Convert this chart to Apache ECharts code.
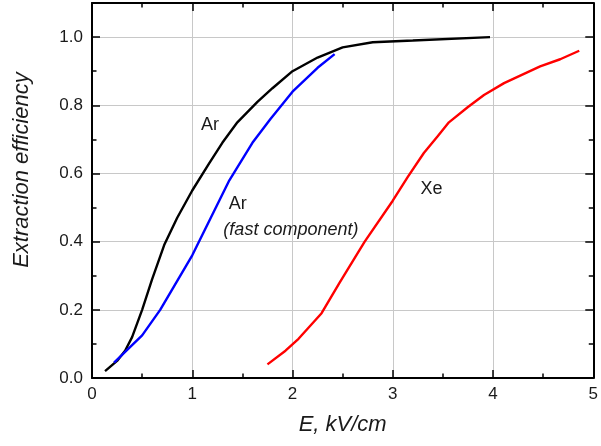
<!DOCTYPE html>
<html><head><meta charset="utf-8">
<script src="https://cdn.jsdelivr.net/npm/echarts@6/dist/echarts.min.js"></script>
<style>html,body{margin:0;padding:0;background:#fff}#c{width:601px;height:446px}</style>
</head><body><div id="c"></div>
<script>
const arE   = [0.13,0.25,0.33,0.40,0.50,0.60,0.72,0.85,1.00,1.17,1.30,1.45,1.65,1.80,2.00,2.25,2.50,2.80,3.20,3.97];
const arEff = [0.02,0.05,0.08,0.12,0.20,0.29,0.39,0.47,0.55,0.63,0.69,0.75,0.81,0.85,0.90,0.94,0.97,0.985,0.99,1.00];
const arFastE   = [0.22,0.50,0.68,1.00,1.37,1.60,1.78,2.00,2.25,2.42];
const arFastEff = [0.045,0.125,0.20,0.36,0.58,0.69,0.76,0.84,0.91,0.95];
const xeE   = [1.75,1.93,2.06,2.29,2.47,2.72,3.00,3.15,3.31,3.45,3.56,3.75,3.91,4.11,4.47,4.67,4.86];
const xeEff = [0.04,0.08,0.115,0.19,0.28,0.40,0.52,0.59,0.66,0.71,0.75,0.795,0.83,0.865,0.914,0.935,0.96];
const labels = [
  {text:'Ar', x:1.176, y:0.741, italic:false},
  {text:'Ar', x:1.454, y:0.51, italic:false},
  {text:'(fast component)', x:1.984, y:0.435, italic:true},
  {text:'Xe', x:3.386, y:0.554, italic:false}
];
const zip = (a,b)=>a.map((v,i)=>[v,b[i]]);
const chart = echarts.init(document.getElementById('c'));
const font = 'Liberation Sans, Arial, sans-serif';
const tickStyle = {show:true, inside:true, length:8, lineStyle:{color:'#000', width:1.5}};
const minorStyle = {show:true, length:4.5, lineStyle:{color:'#000', width:1.5}};
const lineC = {show:true, onZero:false, lineStyle:{color:'#000', width:2}};
chart.setOption({
  animation:false,
  grid:{left:92, right:4, top:3, bottom:68},
  xAxis:[
    {type:'value', min:0, max:5, interval:1, axisLine:lineC, axisTick:tickStyle,
     minorTick:Object.assign({splitNumber:2}, minorStyle),
     splitLine:{show:true, lineStyle:{color:'#c8c8c8', width:1}},
     axisLabel:{color:'#1a1a1a', fontSize:17, fontFamily:font, margin:8},
     name:'E, kV/cm', nameLocation:'middle', nameGap:36,
     nameTextStyle:{fontSize:22, fontStyle:'italic', color:'#1a1a1a', fontFamily:font}},
    {type:'value', position:'top', min:0, max:5, interval:1, axisLine:lineC, axisTick:tickStyle,
     minorTick:Object.assign({splitNumber:2}, minorStyle), splitLine:{show:false}, axisLabel:{show:false}}
  ],
  yAxis:[
    {type:'value', min:0, max:1.1, interval:0.2, axisLine:lineC, axisTick:tickStyle,
     minorTick:Object.assign({splitNumber:2}, minorStyle),
     splitLine:{show:true, lineStyle:{color:'#c8c8c8', width:1}},
     axisLabel:{color:'#1a1a1a', fontSize:17, fontFamily:font, margin:9, formatter:v=>v.toFixed(1),
       showMaxLabel:false}},
    {type:'value', position:'right', min:0, max:1.1, interval:0.2, axisLine:lineC, axisTick:tickStyle,
     minorTick:Object.assign({splitNumber:2}, minorStyle), splitLine:{show:false}, axisLabel:{show:false}}
  ],
  series:[
    {type:'line', data:zip(arE,arEff), symbol:'none', lineStyle:{color:'#000', width:2.4}, color:'#000'},
    {type:'line', data:zip(arFastE,arFastEff), symbol:'none', lineStyle:{color:'#0000ff', width:2.4}, color:'#00f'},
    {type:'line', data:zip(xeE,xeEff), symbol:'none', lineStyle:{color:'#ff0000', width:2.4}, color:'#f00'}
  ]
});
const g = labels.map(l=>{
  const p = chart.convertToPixel({gridIndex:0}, [l.x, l.y]);
  return {type:'text', x:p[0], y:p[1], style:{text:l.text, fill:'#1a1a1a', font:(l.italic?'italic ':'')+'18px '+font, align:'center', verticalAlign:'middle'}};
});
g.push({type:'text', x:22, y:170, rotation:Math.PI/2,
  style:{text:'Extraction efficiency', fill:'#1a1a1a', font:'italic 22px '+font, align:'center', verticalAlign:'middle'}});
chart.setOption({graphic:g});
</script></body></html>
